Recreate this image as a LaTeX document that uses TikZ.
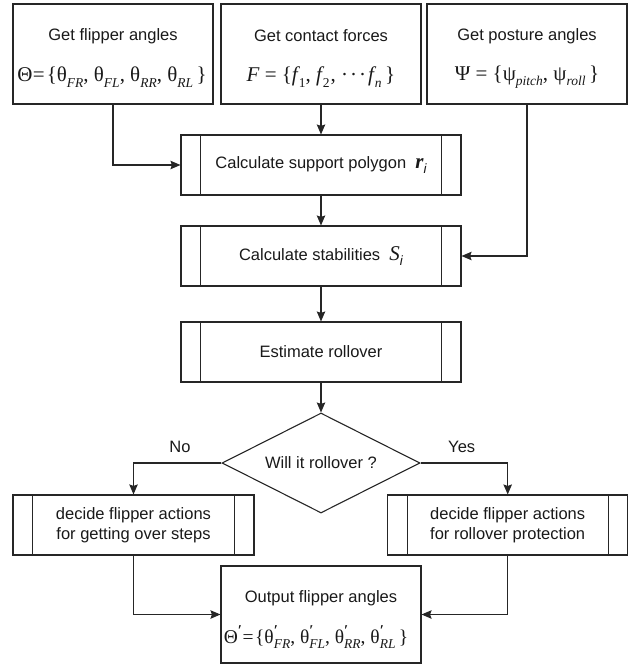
\documentclass[tikz,border=0pt]{standalone}
\usepackage{fontspec}
\setmainfont{Liberation Sans}
\newfontfamily\tms{Liberation Serif}
\usetikzlibrary{shapes.geometric,arrows.meta}
\newcommand\sbs[1]{\raisebox{-0.27em}{\fontsize{13.5}{13.5}\selectfont\itshape #1}}
\newcommand\prm{\raisebox{0.4em}{\fontsize{15}{15}\selectfont\bfseries ′}}
\newcommand\tpr[1]{θ\rlap{\prm}\sbs{#1}}
\newcommand\fml{\tms\fontsize{21}{24}\selectfont}
\newcommand\fmlo{\tms\fontsize{19.5}{22}\selectfont}
\tikzset{
  every node/.style={font=\fontsize{16.5}{20}\selectfont, text=black!90},
  boxa/.style={draw=black!85, line width=1.1pt, rectangle, minimum width=200pt, minimum height=100pt, inner sep=0pt},
  procbox/.style={draw=black!85, line width=1.1pt, rectangle, minimum width=280pt, minimum height=60pt, inner sep=0pt, align=center},
  sidebox/.style={draw=black!85, line width=1.1pt, rectangle, minimum width=240pt, minimum height=60pt, inner sep=0pt, align=center},
  decision/.style={draw=black!85, line width=1.1pt, diamond, aspect=1.98, minimum width=198pt, minimum height=100pt, inner sep=0pt},
  conn/.style={draw=black!85, line width=1.1pt, -{Stealth[length=10pt,width=8.5pt,inset=1.5pt]}},
  lbl/.style={inner sep=0pt, anchor=center}
}
\begin{document}
\begin{tikzpicture}[x=1pt,y=-1pt]
\useasboundingbox (0,0) rectangle (630,666);
% top boxes
\node[boxa] (b1) at (113,54) {};
\node[boxa] (b2) at (321,54) {};
\node[boxa] (b3) at (527,54) {};
\node[lbl] (t1) at (113,36) {Get flipper angles};
\node[lbl] (f1) at (112,77) {\fml Θ\kern0.5pt=\kern2pt\{θ\sbs{FR}, θ\sbs{FL}, θ\sbs{RR}, θ\sbs{RL}\,\}};
\node[lbl] (t2) at (321,36) {Get contact forces};
\node[lbl] (f2) at (321,77) {\fml {\itshape F} = \{{\itshape f}\kern1pt\sbs{\upshape 1}, {\itshape f}\kern1pt\sbs{\upshape 2}\kern1pt, ·\kern2pt·\kern2pt·\kern2pt{\itshape f}\kern1pt\sbs{n}\,\}};
\node[lbl] (t3) at (527,36) {Get posture angles};
\node[lbl] (f3) at (527,77) {\fml Ψ = \{ψ\sbs{pitch}, ψ\sbs{roll}\,\}};
% process boxes
\node[procbox] (poly) at (321,165) {Calculate support polygon\ \ {\fml\bfseries\itshape r}\sbs{i}};
\node[procbox] (stab) at (321,256) {Calculate stabilities\ \ {\fml\itshape S}\sbs{i}};
\node[procbox] (est) at (321,352) {Estimate rollover};
\node[decision] (dec) at (321,463) {};
\node[lbl] (dect) at (321,463) {Will it rollover ?};
\node[sidebox, minimum width=241pt] (lbox) at (133.5,525) {decide flipper actions\\for getting over steps};
\node[sidebox] (rbox) at (507.7,525) {decide flipper actions\\for rollover protection};
\node[boxa, minimum height=97pt] (out) at (321,614.5) {};
\node[lbl] (t4) at (321,598) {Output flipper angles};
\node[lbl] (f4) at (316,637) {\fmlo Θ\prm\kern0.5pt=\kern1.5pt\{\tpr{FR}, \tpr{FL}, \tpr{RR}, \tpr{RL}\,\}};
% side bars
\foreach \n in {poly,stab,est,lbox,rbox} {
  \draw[black!85, line width=1.1pt] ([xshift=20pt]\n.north west) -- ([xshift=20pt]\n.south west);
  \draw[black!85, line width=1.1pt] ([xshift=-20pt]\n.north east) -- ([xshift=-20pt]\n.south east);
}
% connectors
\draw[conn] (b2.south) -- (poly.north);
\draw[conn] (b1.south) |- (poly.west);
\draw[conn] (b3.south) |- (stab.east);
\draw[conn] (poly.south) -- (stab.north);
\draw[conn] (stab.south) -- (est.north);
\draw[conn] (est.south) -- (dec.north);
\draw[conn] (dec.west) -| (lbox.north);
\draw[conn] (dec.east) -| (rbox.north);
\draw[conn] (lbox.south) |- (out.west);
\draw[conn] (rbox.south) |- (out.east);
\node[lbl] (no) at (180,447) {No};
\node[lbl] (yes) at (461.7,447) {Yes};
\end{tikzpicture}
\end{document}
